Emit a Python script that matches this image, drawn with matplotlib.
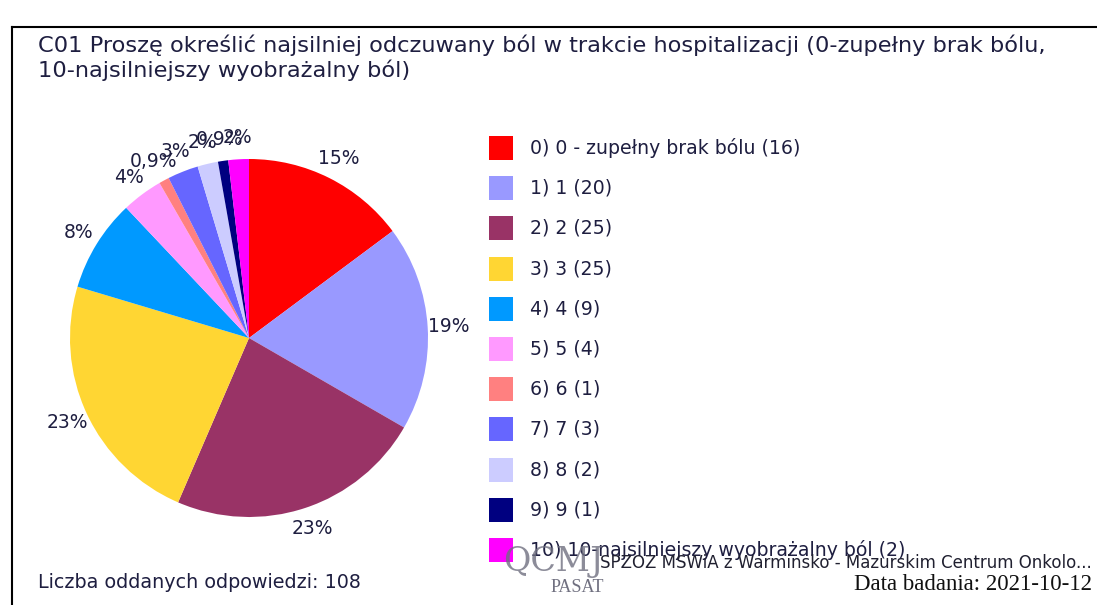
import matplotlib
matplotlib.use("Agg")
import matplotlib.pyplot as plt
from matplotlib.patches import Rectangle
from matplotlib.lines import Line2D

W, H = 1097, 605
DPI = 100

title = "C01 Proszę określić najsilniej odczuwany ból w trakcie hospitalizacji (0-zupełny brak bólu,\n10-najsilniejszy wyobrażalny ból)"
categories = ["0) 0 - zupełny brak bólu", "1) 1", "2) 2", "3) 3", "4) 4", "5) 5",
              "6) 6", "7) 7", "8) 8", "9) 9", "10) 10-najsilniejszy wyobrażalny ból"]
counts = [16, 20, 25, 25, 9, 4, 1, 3, 2, 1, 2]
colors = ["#FF0000", "#9999FF", "#993366", "#FFD633", "#0099FF", "#FF99FF",
          "#FF8080", "#6666FF", "#CCCCFF", "#000080", "#FF00FF"]
total_text = "Liczba oddanych odpowiedzi: 108"
org_text = "SPZOZ MSWiA z Warminsko - Mazurskim Centrum Onkolo..."
date_text = "Data badania: 2021-10-12"

TXT = "#1e1e40"

fig = plt.figure(figsize=(W / DPI, H / DPI), dpi=DPI)
fig.patch.set_facecolor("white")

def fx(px):
    return px / W

def fy(py):
    return 1 - py / H

# frame
fig.add_artist(Line2D([fx(12), fx(12)], [fy(27), fy(605)], color="black", lw=1.5))
fig.add_artist(Line2D([fx(12), fx(1097)], [fy(27), fy(27)], color="black", lw=1.5))

# title
fig.text(fx(38), fy(34), title, ha="left", va="top", fontsize=16.2,
         color=TXT, family="DejaVu Sans", linespacing=1.22)

# pie
cx, cy, r = 249, 338, 179
ax = fig.add_axes([fx(cx - r), fy(cy + r), (2 * r) / W, (2 * r) / H])
ax.axis("off")

def fmt(p):
    if p < 1:
        return f"{p:.1f}".replace(".", ",") + "%"
    return f"{p:.0f}%"

wedges, _, autotexts = ax.pie(counts, colors=colors, startangle=90, counterclock=False,
                              autopct=fmt, pctdistance=1.12, radius=1,
                              wedgeprops=dict(linewidth=0),
                              textprops=dict(fontsize=13.5, color=TXT))
for t in autotexts:
    t.set_clip_on(False)
ax.set_xlim(-1, 1)
ax.set_ylim(-1, 1)
ax.set_aspect("equal")

# legend
lx = 489
ly0 = 148
step = 40.2
for i, (cat, n, c) in enumerate(zip(categories, counts, colors)):
    y = ly0 + i * step
    fig.add_artist(Rectangle((fx(lx), fy(y + 12)), 24 / W, 24 / H,
                             facecolor=c, edgecolor="none"))
    fig.text(fx(530), fy(y), f"{cat} ({n})", ha="left", va="center",
             fontsize=13.6, color=TXT)

# footer
fig.text(fx(38), fy(583), total_text, ha="left", va="center", fontsize=13.8, color=TXT)
fig.text(fx(503), fy(562), "QCMJ", ha="left", va="center", fontsize=24,
         family="DejaVu Serif", color="#707080", alpha=0.8)
fig.text(fx(551), fy(588), "PASAT", ha="left", va="center", fontsize=13,
         family="Liberation Serif", color="#707080")
fig.text(fx(1092), fy(563), org_text, ha="right", va="center", fontsize=12,
         color="#202030")
fig.text(fx(1092), fy(585), date_text, ha="right", va="center", fontsize=16.5,
         family="Liberation Serif", color="#101010")

fig.savefig("out.png", dpi=DPI)
